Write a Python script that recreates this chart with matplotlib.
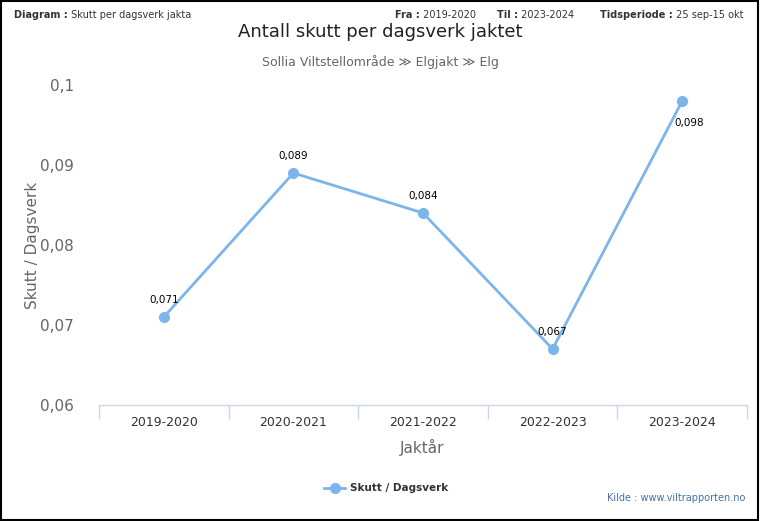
import matplotlib
matplotlib.use("Agg")
import matplotlib.pyplot as plt
from matplotlib.patches import Rectangle
from matplotlib.lines import Line2D

categories = ["2019-2020", "2020-2021", "2021-2022", "2022-2023", "2023-2024"]
values = [0.071, 0.089, 0.084, 0.067, 0.098]
labels = ["0,071", "0,089", "0,084", "0,067", "0,098"]
yticks = [0.06, 0.07, 0.08, 0.09, 0.1]
ytick_labels = ["0,06", "0,07", "0,08", "0,09", "0,1"]

W, H = 760, 521
fig = plt.figure(figsize=(W / 100, H / 100), dpi=100)
renderer = fig.canvas.get_renderer()

def fx(px):
    return px / W

def fy(py):
    return 1 - py / H

ax = fig.add_axes([fx(99), fy(405), fx(747) - fx(99), fy(85) - fy(405)])
line_color = "#7cb5ec"
x = list(range(len(categories)))
ax.plot(x, values, color=line_color, lw=2, marker="o", ms=7, zorder=3, clip_on=False)
ax.set_xlim(-0.5, len(categories) - 0.5)
ax.set_ylim(0.06, 0.1)

for s in ["top", "right", "left"]:
    ax.spines[s].set_visible(False)
ax.spines["bottom"].set_color("#ccd6eb")
ax.spines["bottom"].set_linewidth(1)

ax.set_yticks(yticks)
ax.set_yticklabels(ytick_labels, fontsize=11, color="#666666")
ax.tick_params(axis="y", length=0, pad=18)

ax.set_xticks([i - 0.5 for i in range(len(categories) + 1)], minor=False)
ax.set_xticklabels([])
ax.tick_params(axis="x", which="major", length=10, color="#ccd6eb", width=1)
ax.set_xticks(x, minor=True)
ax.set_xticklabels(categories, minor=True, fontsize=9, color="#333333")
ax.tick_params(axis="x", which="minor", length=0, pad=8)

for i, (v, lab) in enumerate(zip(values, labels)):
    if i == len(values) - 1:
        ax.annotate(lab, (i, v), xytext=(5, -16), textcoords="offset points",
                    ha="center", va="center", fontsize=7.5, color="black")
    else:
        ax.annotate(lab, (i, v), xytext=(0, 12.5), textcoords="offset points",
                    ha="center", va="center", fontsize=7.5, color="black")

# axis titles
fig.text(fx(32), fy(245), "Skutt / Dagsverk", rotation=90, ha="center", va="center",
         fontsize=11, color="#666666")
fig.text(fx(422), fy(447), "Jaktår", ha="center", va="center", fontsize=11, color="#666666")

# title & subtitle
fig.text(fx(380), fy(32), "Antall skutt per dagsverk jaktet", ha="center", va="center",
         fontsize=13, color="#222222")
fig.text(fx(380), fy(62), "Sollia Viltstellområde \u226b Elgjakt \u226b Elg", ha="center", va="center",
         fontsize=9, color="#666666")

# header: sequential placement
def seq(x0, parts, y=15, size=7):
    xpos = x0
    for txt, bold in parts:
        t = fig.text(fx(xpos), fy(y), txt, ha="left", va="center", fontsize=size,
                     fontweight="bold" if bold else "normal", color="#333333")
        bb = t.get_window_extent(renderer)
        xpos += bb.width
    return xpos

seq(14, [("Diagram :", True), (" Skutt per dagsverk jakta", False)])
seq(395, [("Fra :", True), (" 2019-2020", False)])
seq(497, [("Til :", True), (" 2023-2024", False)])
seq(600, [("Tidsperiode :", True), (" 25 sep-15 okt", False)])

# legend
fig.add_artist(Line2D([fx(324), fx(345)], [fy(488), fy(488)], color=line_color, lw=2,
                      transform=fig.transFigure))
fig.add_artist(Line2D([fx(334.5)], [fy(488)], color=line_color, marker="o", ms=7,
                      transform=fig.transFigure))
fig.text(fx(350), fy(488), "Skutt / Dagsverk", ha="left", va="center", fontsize=7.5,
         fontweight="bold", color="#333333")

# credit
fig.text(fx(745), fy(498), "Kilde : www.viltrapporten.no", ha="right", va="center",
         fontsize=7, color="#4572a7")

# border
fig.add_artist(Rectangle((0.001, 0.002), 0.997, 0.996, transform=fig.transFigure,
                         fill=False, edgecolor="black", lw=1.5))

fig.savefig("out.png", dpi=100)
